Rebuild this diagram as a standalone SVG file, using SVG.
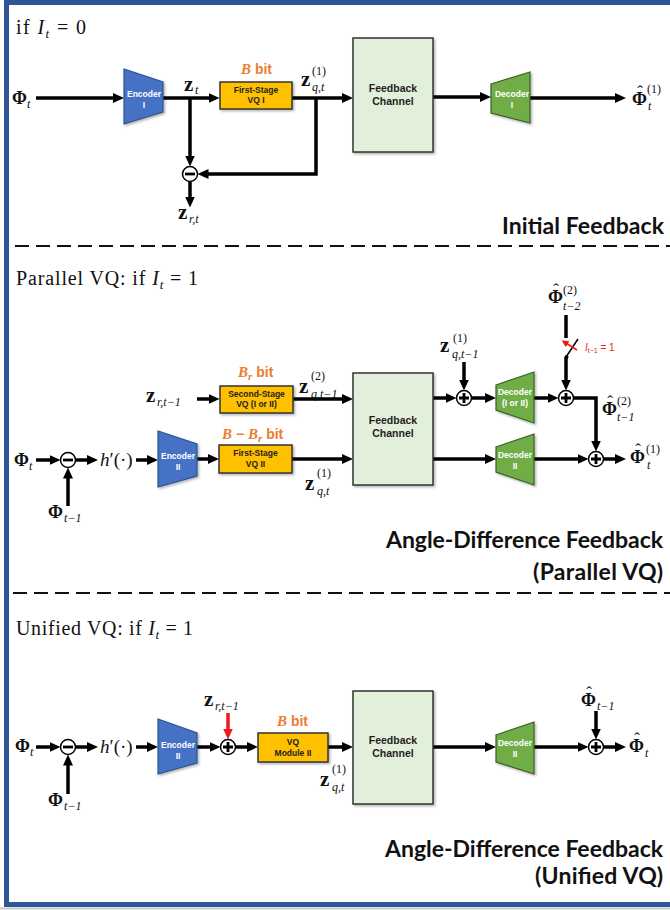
<svg xmlns="http://www.w3.org/2000/svg" width="670" height="910" viewBox="0 0 670 910">
<defs>
<marker id="ah" markerUnits="userSpaceOnUse" markerWidth="11" markerHeight="10" refX="5.5" refY="5" orient="auto"><path d="M0,0 L11,5 L0,10 z" fill="#000"/></marker>
<marker id="ahr" markerUnits="userSpaceOnUse" markerWidth="11" markerHeight="10" refX="5.5" refY="5" orient="auto"><path d="M0,0 L11,5 L0,10 z" fill="#F01818"/></marker>
<marker id="ahs" markerUnits="userSpaceOnUse" markerWidth="7" markerHeight="7" refX="3" refY="3.5" orient="auto"><path d="M0,0 L7,3.5 L0,7 z" fill="#F01818"/></marker>
<filter id="sh" x="-15%" y="-15%" width="140%" height="140%"><feDropShadow dx="1.5" dy="1.5" stdDeviation="1" flood-color="#000" flood-opacity="0.3"/></filter>
</defs>
<style>
.ln{fill:none;stroke:#000;stroke-width:3.5}
.ar{marker-end:url(#ah)}
.enc{fill:#4472C4;stroke:#2F528F;stroke-width:1.2;filter:url(#sh)}
.dec{fill:#70AD47;stroke:#3A5F22;stroke-width:1.2;filter:url(#sh)}
.vq{fill:#FFC000;stroke:#333;stroke-width:1.5;filter:url(#sh)}
.fc{fill:#E2EFDA;stroke:#333;stroke-width:1.5;filter:url(#sh)}
.wt{font-family:"Liberation Sans",Arial,sans-serif;font-weight:bold;font-size:8.5px;fill:#fff;text-anchor:middle}
.bt{font-family:"Liberation Sans",Arial,sans-serif;font-weight:bold;font-size:8.5px;fill:#222;text-anchor:middle}
.ft{font-family:"Liberation Sans",Arial,sans-serif;font-weight:bold;font-size:10.5px;fill:#222;text-anchor:middle}
.m{font-family:"Liberation Serif","Times New Roman",serif;fill:#111}
.B{font-size:18px;font-weight:bold}
.Z{font-size:21px;font-weight:bold}
.s{font-size:12px;font-style:italic;font-weight:normal}
.n{font-size:12px;font-weight:normal}
.h{font-size:17px;font-weight:normal}
.ob{font-family:"Liberation Sans",Arial,sans-serif;font-weight:bold;font-size:14px;fill:#ED7D31}
.obi{font-family:"Liberation Serif",serif;font-style:italic;font-weight:bold;font-size:15px}
.ttl{font-family:Lato,"Open Sans",sans-serif;font-weight:bold;font-size:23px;fill:#111;text-anchor:end}
.cap{font-family:"Liberation Serif","Times New Roman",serif;font-size:20px;fill:#111}
.sum{fill:#fff;stroke:#000;stroke-width:1.5}
.sg{stroke:#000;stroke-width:2.8;fill:none}
.dash{stroke:#111;stroke-width:2;stroke-dasharray:14 7;fill:none}
</style>
<rect x="0" y="0" width="670" height="910" fill="#fff"/>
<rect x="6.5" y="2.5" width="672" height="902" fill="none" stroke="#2F5597" stroke-width="5"/>
<line x1="0" y1="908.5" x2="670" y2="908.5" stroke="#c8c8c8" stroke-width="2"/>

<!-- section separators -->
<line class="dash" x1="15" y1="246" x2="670" y2="246"/>
<line class="dash" x1="13" y1="593" x2="670" y2="593"/>

<!-- captions -->
<text class="cap" x="16" y="34" textLength="70">if <tspan font-style="italic">I</tspan><tspan font-size="13" font-style="italic" dy="4">t</tspan><tspan dy="-4"> = 0</tspan></text>
<text class="cap" x="16" y="285" textLength="182">Parallel VQ: if <tspan font-style="italic">I</tspan><tspan font-size="13" font-style="italic" dy="4">t</tspan><tspan dy="-4"> = 1</tspan></text>
<text class="cap" x="16" y="635" textLength="177">Unified VQ: if <tspan font-style="italic">I</tspan><tspan font-size="13" font-style="italic" dy="4">t</tspan><tspan dy="-4"> = 1</tspan></text>
<text class="ttl" x="664" y="234" textLength="162">Initial Feedback</text>
<text class="ttl" x="663" y="548" textLength="277">Angle-Difference Feedback</text>
<text class="ttl" x="663" y="580" textLength="130">(Parallel VQ)</text>
<text class="ttl" x="663" y="857" textLength="278">Angle-Difference Feedback</text>
<text class="ttl" x="663" y="884" textLength="128">(Unified VQ)</text>

<!-- connectors -->
<g id="connectors">
<path class="ln ar" d="M36,98 H118.5"/>
<path class="ln ar" d="M163,98 H214"/>
<path class="ln ar" d="M190,98 V161"/>
<path class="ln ar" d="M190,181.5 V202"/>
<path class="ln ar" d="M292,98 H347.5"/>
<path class="ln ar" d="M316,98 V174 H203"/>
<path class="ln ar" d="M433,97 H485.5"/>
<path class="ln ar" d="M530,98 H620.5"/>

<path class="ln ar" d="M197,399 H214"/>
<path class="ln ar" d="M293,399 H347.5"/>
<path class="ln ar" d="M36,460 H55"/>
<path class="ln ar" d="M68,506 V473"/>
<path class="ln ar" d="M75.5,460 H92.5"/>
<path class="ln ar" d="M136,460 H152.5"/>
<path class="ln ar" d="M197,459 H213.5"/>
<path class="ln ar" d="M292,459 H347.5"/>
<path class="ln ar" d="M433,398 H451"/>
<path class="ln ar" d="M464,362 V385"/>
<path class="ln ar" d="M471.5,398 H490.5"/>
<path class="ln ar" d="M534,398 H553"/>
<path class="ln" d="M566,315 V338"/>
<path class="ln ar" d="M566,357 V385"/>
<line x1="566" y1="357" x2="578" y2="339" stroke="#000" stroke-width="1.5"/>
<circle cx="566.5" cy="357" r="2" fill="#000"/>
<line x1="577" y1="350" x2="565" y2="342.5" stroke="#F01818" stroke-width="1.6" marker-end="url(#ahs)"/>
<path class="ln ar" d="M573.5,398 H596 V446"/>
<path class="ln ar" d="M433,459 H490.5"/>
<path class="ln ar" d="M534,459 H583"/>
<path class="ln ar" d="M603.5,459 H620.5"/>

<path class="ln ar" d="M36,747 H55"/>
<path class="ln ar" d="M68,794 V760"/>
<path class="ln ar" d="M75.5,747 H92.5"/>
<path class="ln ar" d="M136,747 H152.5"/>
<path class="ln ar" d="M197,747 H215"/>
<path class="ln" d="M228,713 V734" style="stroke:#F01818" marker-end="url(#ahr)"/>
<path class="ln ar" d="M235.5,747 H252.5"/>
<path class="ln ar" d="M328,747 H347.5"/>
<path class="ln ar" d="M433,747 H490.5"/>
<path class="ln ar" d="M534,747 H583"/>
<path class="ln ar" d="M596,711 V734"/>
<path class="ln ar" d="M603.5,747 H620.5"/>
</g>

<!-- ===== Top: initial feedback ===== -->
<g id="enc1"><polygon class="enc" points="124,69 163,82 163,112 124,124"/><text class="wt" x="144" y="97">Encoder</text><text class="wt" x="144" y="108">I</text></g>
<g id="vq1"><rect class="vq" x="220" y="82" width="72" height="27"/><text class="bt" x="256" y="93">First-Stage</text><text class="bt" x="256" y="103">VQ I</text></g>
<g id="fc1"><rect class="fc" x="353" y="38" width="80" height="114"/><text class="ft" x="393" y="92">Feedback</text><text class="ft" x="393" y="105">Channel</text></g>
<g id="dec1"><polygon class="dec" points="491,84 530,72 530,123 491,113"/><text class="wt" x="512" y="97">Decoder</text><text class="wt" x="512" y="108">I</text></g>
<g id="sub1"><circle class="sum" cx="190" cy="174" r="7.5"/><path class="sg" d="M185,174 H195"/></g>
<text class="ob" x="241" y="74"><tspan class="obi">B</tspan> bit</text>

<g id="lbl-top" class="m">
<text class="B" x="12" y="104">Φ</text><text class="s" x="27" y="108">t</text>
<text class="Z" x="184" y="91">z</text><text class="s" x="195" y="94">t</text>
<text class="Z" x="301" y="86">z</text><text class="n" x="312" y="75">(1)</text><text class="s" x="312" y="91">q,t</text>
<text class="Z" x="178" y="219">z</text><text class="s" x="189" y="223">r,t</text>
<text class="B" x="632" y="105">Φ<tspan class="h" dx="-9.8" dy="-8">ˆ</tspan><tspan class="n" x="647" y="93">(1)</tspan><tspan class="s" x="648" y="110">t</tspan></text>
</g>

<!-- ===== Middle: parallel VQ ===== -->
<g id="vq2s"><rect class="vq" x="220" y="386" width="73" height="27"/><text class="bt" x="256.5" y="397">Second-Stage</text><text class="bt" x="256.5" y="407">VQ (I or II)</text></g>
<g id="enc2"><polygon class="enc" points="158,431 197,444 197,476 158,487"/><text class="wt" x="178" y="459">Encoder</text><text class="wt" x="178" y="470">II</text></g>
<g id="vq2"><rect class="vq" x="219" y="445" width="73" height="28"/><text class="bt" x="255.5" y="456">First-Stage</text><text class="bt" x="255.5" y="467">VQ II</text></g>
<g id="fc2"><rect class="fc" x="353" y="373" width="80" height="112"/><text class="ft" x="393" y="424">Feedback</text><text class="ft" x="393" y="437">Channel</text></g>
<g id="dec2a"><polygon class="dec" points="496,385 534,372 534,423 496,410"/><text class="wt" x="515" y="395">Decoder</text><text class="wt" x="515" y="406">(I or II)</text></g>
<g id="dec2b"><polygon class="dec" points="496,447 534,434 534,485 496,472"/><text class="wt" x="515" y="458">Decoder</text><text class="wt" x="515" y="469">II</text></g>
<g id="sub2"><circle class="sum" cx="68" cy="460" r="7.5"/><path class="sg" d="M63,460 H73"/></g>
<g id="add2a"><circle class="sum" cx="464" cy="398" r="7.5"/><path class="sg" d="M459,398 H469 M464,393 V403"/></g>
<g id="add2b"><circle class="sum" cx="566" cy="398" r="7.5"/><path class="sg" d="M561,398 H571 M566,393 V403"/></g>
<g id="add2c"><circle class="sum" cx="596" cy="459" r="7.5"/><path class="sg" d="M591,459 H601 M596,454 V464"/></g>
<text class="ob" x="238" y="377"><tspan class="obi">B</tspan><tspan font-family="Liberation Serif,serif" font-style="italic" font-size="11" dy="3">r</tspan><tspan dy="-3"> bit</tspan></text>
<text class="ob" x="222" y="439"><tspan class="obi">B</tspan><tspan font-family="Liberation Sans,sans-serif"> − </tspan><tspan class="obi">B</tspan><tspan font-family="Liberation Serif,serif" font-style="italic" font-size="11" dy="3">r</tspan><tspan dy="-3"> bit</tspan></text>
<text x="585" y="351" font-family="Liberation Sans,Arial,sans-serif" font-size="10" fill="#F01818"><tspan font-style="italic">I</tspan><tspan font-size="7" dy="2">t−1</tspan><tspan dy="-2"> = 1</tspan></text>

<g id="lbl-mid" class="m">
<text class="Z" x="146" y="402">z</text><text class="s" x="157" y="406">r,t−1</text>
<text class="Z" x="299" y="393">z</text><text class="n" x="311" y="380">(2)</text><text class="s" x="311" y="398">q,t−1</text>
<text class="B" x="14" y="466">Φ</text><text class="s" x="29" y="470">t</text>
<text class="B" x="48" y="518">Φ</text><text class="s" x="64" y="522">t−1</text>
<text x="100" y="466" font-size="19"><tspan font-style="italic">h</tspan>′(·)</text>
<text class="Z" x="305" y="490">z</text><text class="n" x="317" y="477">(1)</text><text class="s" x="317" y="495">q,t</text>
<text class="Z" x="440" y="352">z</text><text class="n" x="453" y="342">(1)</text><text class="s" x="452" y="358">q,t−1</text>
<text class="B" x="548" y="303">Φ<tspan class="h" dx="-9.8" dy="-8">ˆ</tspan><tspan class="n" x="563" y="294">(2)</tspan><tspan class="s" x="563" y="310">t−2</tspan></text>
<text class="B" x="602" y="415">Φ<tspan class="h" dx="-9.8" dy="-8">ˆ</tspan><tspan class="n" x="617" y="405">(2)</tspan><tspan class="s" x="617" y="421">t−1</tspan></text>
<text class="B" x="630" y="463">Φ<tspan class="h" dx="-9.8" dy="-8">ˆ</tspan><tspan class="n" x="646" y="453">(1)</tspan><tspan class="s" x="647" y="469">t</tspan></text>
</g>

<!-- ===== Bottom: unified VQ ===== -->
<g id="enc3"><polygon class="enc" points="158,719 197,733 197,763 158,774"/><text class="wt" x="178" y="748">Encoder</text><text class="wt" x="178" y="759">II</text></g>
<g id="vq3"><rect class="vq" x="258" y="733" width="70" height="29"/><text class="bt" x="293" y="745">VQ</text><text class="bt" x="293" y="756">Module II</text></g>
<g id="fc3"><rect class="fc" x="353" y="691" width="80" height="113"/><text class="ft" x="393" y="744">Feedback</text><text class="ft" x="393" y="757">Channel</text></g>
<g id="dec3"><polygon class="dec" points="496,735 534,722 534,774 496,762"/><text class="wt" x="515" y="746">Decoder</text><text class="wt" x="515" y="757">II</text></g>
<g id="sub3"><circle class="sum" cx="68" cy="747" r="7.5"/><path class="sg" d="M63,747 H73"/></g>
<g id="add3a"><circle class="sum" cx="228" cy="747" r="7.5"/><path class="sg" d="M223,747 H233 M228,742 V752"/></g>
<g id="add3b"><circle class="sum" cx="596" cy="747" r="7.5"/><path class="sg" d="M591,747 H601 M596,742 V752"/></g>
<text class="ob" x="277" y="726"><tspan class="obi">B</tspan> bit</text>

<g id="lbl-bot" class="m">
<text class="B" x="15" y="752">Φ</text><text class="s" x="30" y="756">t</text>
<text class="B" x="48" y="806">Φ</text><text class="s" x="64" y="810">t−1</text>
<text x="100" y="753" font-size="19"><tspan font-style="italic">h</tspan>′(·)</text>
<text class="Z" x="204" y="706">z</text><text class="s" x="215" y="710">r,t−1</text>
<text class="Z" x="320" y="786">z</text><text class="n" x="332" y="773">(1)</text><text class="s" x="332" y="791">q,t</text>
<text class="B" x="581" y="706">Φ<tspan class="h" dx="-9.8" dy="-8">ˆ</tspan><tspan class="s" x="597" y="710">t−1</tspan></text>
<text class="B" x="629" y="752">Φ<tspan class="h" dx="-9.8" dy="-8">ˆ</tspan><tspan class="s" x="645" y="757">t</tspan></text>
</g>
</svg>
